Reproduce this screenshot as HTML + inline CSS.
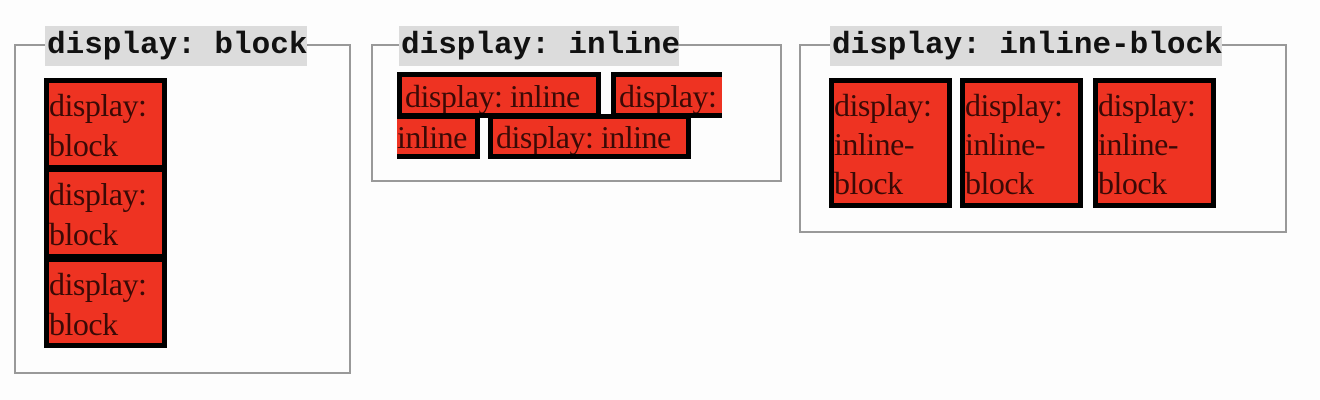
<!DOCTYPE html>
<html><head><style>
body{margin:0;width:1320px;height:400px;background:#fdfdfd;position:relative;overflow:hidden}
.fs{position:absolute;border:2px solid #999;box-sizing:border-box}
.lg{position:absolute;background:#dcdcdc;font:bold 31px "Liberation Mono",monospace;color:#111;height:40px;line-height:40px;padding:0 2px;white-space:nowrap;overflow:hidden}
.b{position:absolute;background:#ee3322;border:5px solid #000;box-sizing:border-box;font:32px "Liberation Serif",serif;color:#3a0a06;line-height:40px;overflow:hidden;white-space:nowrap;letter-spacing:-0.5px}
</style></head><body>
<div class="fs" style="left:14px;top:44px;width:337px;height:330px"></div>
<div class="lg" style="left:45px;top:26px;width:258px">display: block</div>
<div class="b" style="left:44px;top:78px;width:123px;height:92px;padding-top:2px">display:<br>block</div>
<div class="b" style="left:44px;top:167px;width:123px;height:92px;padding-top:2px">display:<br>block</div>
<div class="b" style="left:44px;top:257px;width:123px;height:91px;padding-top:2px">display:<br>block</div>

<div class="fs" style="left:371px;top:44px;width:411px;height:138px"></div>
<div class="lg" style="left:399px;top:26px;width:276px">display: inline</div>
<div class="b" style="left:397px;top:72px;width:204px;height:46px;line-height:38px;padding-left:3px">display: inline</div>
<div class="b" style="left:611px;top:72px;width:111px;height:46px;line-height:38px;border-right:0;padding-left:3px">display:</div>
<div class="b" style="left:397px;top:114px;width:83px;height:45px;line-height:36px;border-left:0">inline</div>
<div class="b" style="left:488px;top:114px;width:203px;height:45px;line-height:36px;padding-left:3px">display: inline</div>

<div class="fs" style="left:799px;top:44px;width:488px;height:189px"></div>
<div class="lg" style="left:830px;top:26px;width:388px">display: inline-block</div>
<div class="b" style="left:829px;top:78px;width:123px;height:130px;line-height:39px;padding-top:3px">display:<br>inline-<br>block</div>
<div class="b" style="left:960px;top:78px;width:123px;height:130px;line-height:39px;padding-top:3px">display:<br>inline-<br>block</div>
<div class="b" style="left:1093px;top:78px;width:123px;height:130px;line-height:39px;padding-top:3px">display:<br>inline-<br>block</div>
</body></html>
